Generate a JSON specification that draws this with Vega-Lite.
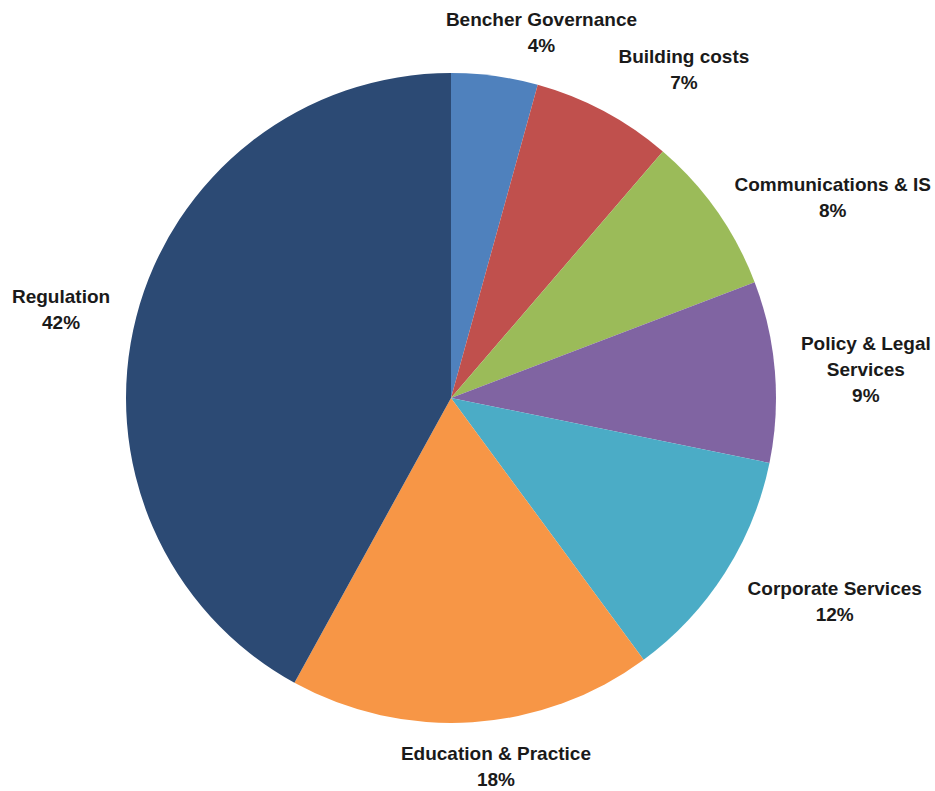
{
  "$schema": "https://vega.github.io/schema/vega-lite/v6.json",
  "width": 902,
  "height": 786,
  "autosize": {"type": "none"},
  "padding": {"left": 0, "top": 5, "right": 33, "bottom": 0},
  "background": "white",
  "view": {"stroke": null},
  "data": {
    "values": [
      {"category": "Bencher Governance", "name": "Bencher Governance", "share": 4.3, "pct": "4%"},
      {"category": "Building costs", "name": "Building costs", "share": 7.0, "pct": "7%"},
      {"category": "Communications & IS", "name": "Communications & IS", "share": 7.9, "pct": "8%"},
      {"category": "Policy & Legal Services", "name": "Policy & Legal\nServices", "share": 9.0, "pct": "9%"},
      {"category": "Corporate Services", "name": "Corporate Services", "share": 11.7, "pct": "12%"},
      {"category": "Education & Practice", "name": "Education & Practice", "share": 18.1, "pct": "18%"},
      {"category": "Regulation", "name": "Regulation", "share": 42.0, "pct": "42%"}
    ]
  },
  "transform": [
    {"window": [{"op": "row_number", "as": "rank"}]},
    {"calculate": "datum.name + '\\n' + datum.pct", "as": "label"}
  ],
  "encoding": {
    "theta": {"field": "share", "type": "quantitative", "stack": true},
    "order": {"field": "rank", "type": "quantitative"}
  },
  "layer": [
    {
      "mark": {"type": "arc", "radius": 325},
      "encoding": {
        "color": {
          "field": "category",
          "type": "nominal",
          "legend": null,
          "scale": {
            "domain": ["Bencher Governance", "Building costs", "Communications & IS", "Policy & Legal Services", "Corporate Services", "Education & Practice", "Regulation"],
            "range": ["#4F81BD", "#C0504D", "#9BBB59", "#8064A2", "#4BACC6", "#F79646", "#2C4A74"]
          }
        }
      }
    },
    {
      "mark": {"type": "text", "radius": 346, "align": "center", "baseline": "bottom", "dx": 70, "dy": -26, "font": "Liberation Sans", "fontWeight": "bold", "fontSize": 19, "lineHeight": 26, "lineBreak": "\n", "fill": "#1a1a1a"},
      "encoding": {
        "detail": {"field": "category"},
        "text": {"condition": {"test": "datum.category === 'Building costs'", "field": "label", "type": "nominal"}, "value": ""}
      }
    },
    {
      "mark": {"type": "text", "radius": 348, "align": "center", "baseline": "middle", "dx": 97, "dy": -13, "font": "Liberation Sans", "fontWeight": "bold", "fontSize": 19, "lineHeight": 26, "lineBreak": "\n", "fill": "#1a1a1a"},
      "encoding": {
        "detail": {"field": "category"},
        "text": {"condition": {"test": "datum.category === 'Communications & IS'", "field": "label", "type": "nominal"}, "value": ""}
      }
    },
    {
      "mark": {"type": "text", "radius": 348, "align": "center", "baseline": "middle", "dx": 68, "dy": -26, "font": "Liberation Sans", "fontWeight": "bold", "fontSize": 19, "lineHeight": 26, "lineBreak": "\n", "fill": "#1a1a1a"},
      "encoding": {
        "detail": {"field": "category"},
        "text": {"condition": {"test": "datum.category === 'Policy & Legal Services'", "field": "label", "type": "nominal"}, "value": ""}
      }
    },
    {
      "mark": {"type": "text", "radius": 345, "align": "center", "baseline": "top", "dx": 93, "dy": -4, "font": "Liberation Sans", "fontWeight": "bold", "fontSize": 19, "lineHeight": 26, "lineBreak": "\n", "fill": "#1a1a1a"},
      "encoding": {
        "detail": {"field": "category"},
        "text": {"condition": {"test": "datum.category === 'Corporate Services'", "field": "label", "type": "nominal"}, "value": ""}
      }
    },
    {
      "mark": {"type": "text", "radius": 345, "align": "center", "baseline": "bottom", "dx": 44, "dy": -26, "font": "Liberation Sans", "fontWeight": "bold", "fontSize": 19, "lineHeight": 26, "lineBreak": "\n", "fill": "#1a1a1a"},
      "encoding": {
        "detail": {"field": "category"},
        "text": {"condition": {"test": "datum.category === 'Bencher Governance'", "field": "label", "type": "nominal"}, "value": ""}
      }
    },
    {
      "mark": {"type": "text", "radius": 348, "align": "center", "baseline": "top", "dx": 22, "font": "Liberation Sans", "fontWeight": "bold", "fontSize": 19, "lineHeight": 26, "lineBreak": "\n", "fill": "#1a1a1a"},
      "encoding": {
        "detail": {"field": "category"},
        "text": {"condition": {"test": "datum.category === 'Education & Practice'", "field": "label", "type": "nominal"}, "value": ""}
      }
    },
    {
      "mark": {"type": "text", "radius": 352, "align": "center", "baseline": "middle", "dx": -49, "dy": -13, "font": "Liberation Sans", "fontWeight": "bold", "fontSize": 19, "lineHeight": 26, "lineBreak": "\n", "fill": "#1a1a1a"},
      "encoding": {
        "detail": {"field": "category"},
        "text": {"condition": {"test": "datum.category === 'Regulation'", "field": "label", "type": "nominal"}, "value": ""}
      }
    }
  ]
}
